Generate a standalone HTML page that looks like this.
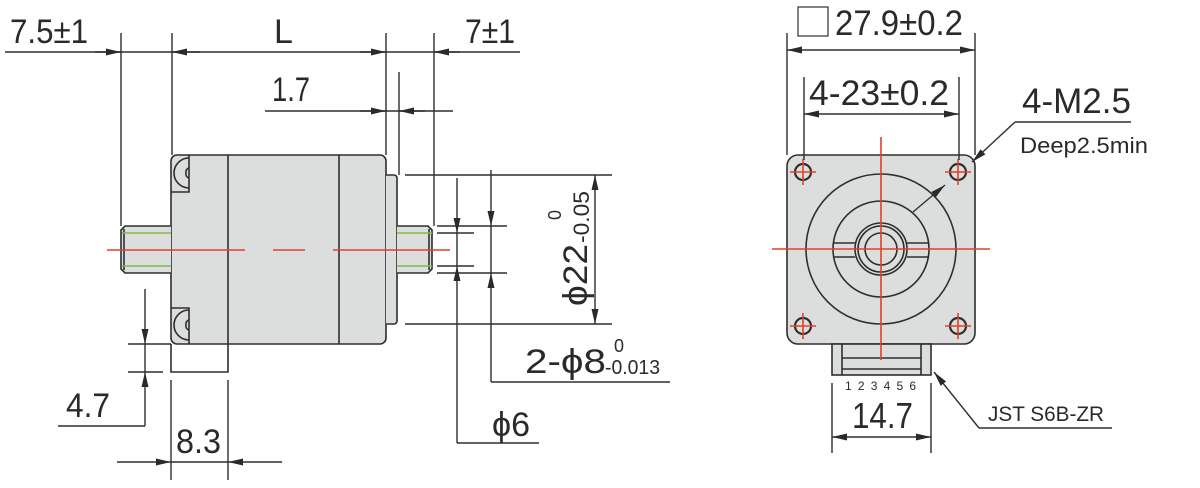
<!DOCTYPE html>
<html><head><meta charset="utf-8"><style>
html,body{margin:0;padding:0;background:#fff;}
svg{display:block;}
text{font-family:"Liberation Sans","DejaVu Sans",sans-serif;fill:#2a2a2a;}
</style></head><body>
<svg width="1200" height="488" viewBox="0 0 1200 488" xmlns="http://www.w3.org/2000/svg">
<defs>
<marker id="a" markerWidth="16" markerHeight="8" refX="15" refY="3.5" orient="auto" markerUnits="userSpaceOnUse">
<path d="M0,0 L15,3.5 L0,7 z" fill="#2a2a2a"/></marker>
</defs>
<g stroke="#2e2e2e" stroke-width="1.6" fill="none">
<!-- SIDE VIEW BODY -->
<rect x="171" y="155" width="215" height="189" rx="6" fill="#dcdedd"/>
<path d="M386,175 h8 a3,3 0 0 1 3,3 v143 a3,3 0 0 1 -3,3 h-8" fill="#dcdedd"/>
<path d="M171,226 h-46 l-4,4 v39 l4,4 h46" fill="#dcdedd"/>
<path d="M397,226 h31 l4,4 v39 l-4,4 h-31" fill="#dcdedd"/>
<line x1="124" y1="229" x2="124" y2="270"/>
<line x1="429" y1="229" x2="429" y2="270"/>
<line x1="228" y1="155" x2="228" y2="344"/>
<line x1="339" y1="155" x2="339" y2="344"/>
<path d="M171,192 h18 v-37"/>
<path d="M171,308 h18 v36"/>
<path d="M189,158 a12,12 0 0 0 0,30 M189,168 a4,4 0 0 0 -3,5 a4,4 0 0 0 3,5"/>
<path d="M189,310 a12,12 0 0 0 0,30 M189,320 a4,4 0 0 0 -3,5 a4,4 0 0 0 3,5"/>
<path d="M171,344 v28 h57 v-28"/>
</g>
<g stroke="#7dbb4a" stroke-width="1.6">
<line x1="122" y1="233" x2="171" y2="233"/><line x1="122" y1="266" x2="171" y2="266"/>
<line x1="397" y1="233" x2="432" y2="233"/><line x1="397" y1="266" x2="432" y2="266"/>
</g>
<g stroke="#e0402a" stroke-width="1.6">
<line x1="107" y1="250" x2="245" y2="250"/><line x1="273" y1="250" x2="305" y2="250"/><line x1="333" y1="250" x2="450" y2="250"/>
</g>
<!-- SIDE VIEW DIMENSIONS -->
<g stroke="#2e2e2e" stroke-width="1.4" fill="none">
<line x1="5" y1="52" x2="520" y2="52"/>
<line x1="121" y1="33" x2="121" y2="226"/>
<line x1="172" y1="33" x2="172" y2="155"/>
<line x1="386" y1="33" x2="386" y2="155"/>
<line x1="434" y1="33" x2="434" y2="226"/>
<line x1="399" y1="72" x2="399" y2="175"/>
<line x1="265" y1="111" x2="453" y2="111"/>
<line x1="95" y1="52" x2="121" y2="52" marker-end="url(#a)"/>
<line x1="200" y1="52" x2="172" y2="52" marker-end="url(#a)"/>
<line x1="360" y1="52" x2="386" y2="52" marker-end="url(#a)"/>
<line x1="460" y1="52" x2="434" y2="52" marker-end="url(#a)"/>
<line x1="360" y1="111" x2="386" y2="111" marker-end="url(#a)"/>
<line x1="425" y1="111" x2="399" y2="111" marker-end="url(#a)"/>
<!-- phi22 -->
<line x1="405" y1="175" x2="612" y2="175"/>
<line x1="405" y1="324" x2="612" y2="324"/>
<line x1="595" y1="250" x2="595" y2="175" marker-end="url(#a)"/>
<line x1="595" y1="250" x2="595" y2="324" marker-end="url(#a)"/>
<!-- shaft ext -->
<line x1="437" y1="226" x2="507" y2="226"/>
<line x1="437" y1="273" x2="507" y2="273"/>
<line x1="437" y1="233" x2="474" y2="233"/>
<line x1="437" y1="266" x2="474" y2="266"/>
<!-- phi8 -->
<line x1="491" y1="170" x2="491" y2="226" marker-end="url(#a)"/>
<line x1="491" y1="382" x2="491" y2="273" marker-end="url(#a)"/>
<line x1="491" y1="226" x2="491" y2="273"/>
<line x1="491" y1="382" x2="670" y2="382"/>
<!-- phi6 -->
<line x1="457" y1="178" x2="457" y2="233" marker-end="url(#a)"/>
<line x1="457" y1="443" x2="457" y2="266" marker-end="url(#a)"/>
<line x1="457" y1="233" x2="457" y2="266"/>
<line x1="457" y1="443" x2="539" y2="443"/>
<!-- 4.7 -->
<line x1="128" y1="344" x2="171" y2="344"/>
<line x1="128" y1="372" x2="163" y2="372"/>
<line x1="145" y1="289" x2="145" y2="344" marker-end="url(#a)"/>
<line x1="145" y1="426" x2="145" y2="372" marker-end="url(#a)"/>
<line x1="145" y1="344" x2="145" y2="372"/>
<line x1="58" y1="426" x2="145" y2="426"/>
<!-- 8.3 -->
<line x1="171" y1="380" x2="171" y2="480"/>
<line x1="228" y1="380" x2="228" y2="480"/>
<line x1="117" y1="462" x2="171" y2="462" marker-end="url(#a)"/>
<line x1="282" y1="462" x2="228" y2="462" marker-end="url(#a)"/>
<line x1="171" y1="462" x2="228" y2="462"/>
</g>
<!-- SIDE TEXT -->
<text x="10" y="43" font-size="34" textLength="78" lengthAdjust="spacingAndGlyphs">7.5±1</text>
<text x="274" y="43" font-size="34">L</text>
<text x="465" y="43" font-size="34" textLength="50" lengthAdjust="spacingAndGlyphs">7±1</text>
<text x="272" y="101" font-size="34" textLength="38" lengthAdjust="spacingAndGlyphs">1.7</text>
<text x="66" y="417" font-size="34" textLength="44" lengthAdjust="spacingAndGlyphs">4.7</text>
<text x="176" y="453" font-size="34" textLength="45" lengthAdjust="spacingAndGlyphs">8.3</text>
<text x="492" y="436" font-size="34" textLength="38" lengthAdjust="spacingAndGlyphs">ϕ6</text>
<text x="525" y="373" font-size="34" textLength="81" lengthAdjust="spacingAndGlyphs">2-ϕ8</text>
<text x="614" y="352" font-size="18">0</text>
<text x="605" y="374" font-size="20" textLength="55" lengthAdjust="spacingAndGlyphs">-0.013</text>
<g transform="translate(587,306) rotate(-90)">
<text x="0" y="0" font-size="34" textLength="62" lengthAdjust="spacingAndGlyphs">ϕ22</text>
<text x="63" y="2" font-size="22" textLength="52" lengthAdjust="spacingAndGlyphs">-0.05</text>
<text x="86" y="-26" font-size="18">0</text>
</g>
<!-- FRONT VIEW -->
<g stroke="#2e2e2e" stroke-width="1.6" fill="none">
<rect x="787" y="155" width="188" height="189" rx="11" fill="#dcdedd"/>
<rect x="832" y="344" width="99" height="31" fill="#dcdedd"/>
<line x1="842" y1="344" x2="842" y2="375"/>
<line x1="921" y1="344" x2="921" y2="375"/>
<line x1="842" y1="358" x2="921" y2="358"/>
<line x1="842" y1="369" x2="921" y2="369"/>
<circle cx="881" cy="249" r="75"/>
<circle cx="881" cy="249" r="48"/>
<circle cx="881" cy="249" r="26"/>
<circle cx="881" cy="249" r="23"/>
<circle cx="881" cy="249" r="16"/>
<path d="M833,243 h22 M833,257 h22 M907,243 h22 M907,257 h22"/>
<circle cx="803" cy="172" r="8" stroke-width="2.2"/>
<circle cx="958" cy="172" r="8" stroke-width="2.2"/>
<circle cx="803" cy="326" r="8" stroke-width="2.2"/>
<circle cx="958" cy="326" r="8" stroke-width="2.2"/>
</g>
<g stroke="#e0402a" stroke-width="1.6">
<line x1="881" y1="137" x2="881" y2="360"/>
<line x1="772" y1="249" x2="990" y2="249"/>
<path d="M790,172 h26 M803,159 v26 M945,172 h26 M958,159 v26 M790,326 h26 M803,313 v26 M945,326 h26 M958,313 v26"/>
</g>
<g stroke="#2e2e2e" stroke-width="1.4" fill="none">
<rect x="798" y="7" width="30" height="29" stroke-width="1.2"/>
<line x1="787" y1="33" x2="787" y2="155"/>
<line x1="975" y1="33" x2="975" y2="155"/>
<line x1="881" y1="50" x2="787" y2="50" marker-end="url(#a)"/>
<line x1="881" y1="50" x2="975" y2="50" marker-end="url(#a)"/>
<line x1="804" y1="77" x2="804" y2="160"/>
<line x1="959" y1="77" x2="959" y2="160"/>
<line x1="881" y1="114" x2="804" y2="114" marker-end="url(#a)"/>
<line x1="881" y1="114" x2="959" y2="114" marker-end="url(#a)"/>
<line x1="1015" y1="122" x2="1131" y2="122"/>
<line x1="1015" y1="122" x2="972" y2="162" marker-end="url(#a)"/>
<line x1="913" y1="212" x2="945" y2="185" marker-end="url(#a)"/>
<line x1="832" y1="383" x2="832" y2="453"/>
<line x1="931" y1="383" x2="931" y2="453"/>
<line x1="881" y1="437" x2="832" y2="437" marker-end="url(#a)"/>
<line x1="881" y1="437" x2="931" y2="437" marker-end="url(#a)"/>
<line x1="979" y1="428" x2="934" y2="372" marker-end="url(#a)"/>
<line x1="979" y1="428" x2="1112" y2="428"/>
</g>
<text x="835" y="35" font-size="35" textLength="128" lengthAdjust="spacingAndGlyphs">27.9±0.2</text>
<text x="809" y="105" font-size="35" textLength="140" lengthAdjust="spacingAndGlyphs">4-23±0.2</text>
<text x="1022" y="113" font-size="35" textLength="109" lengthAdjust="spacingAndGlyphs">4-M2.5</text>
<text x="1020" y="153" font-size="22" textLength="128" lengthAdjust="spacingAndGlyphs">Deep2.5min</text>
<text x="852" y="428" font-size="36" textLength="61" lengthAdjust="spacingAndGlyphs">14.7</text>
<text x="845" y="390" font-size="12" textLength="71" lengthAdjust="spacing">123456</text>
<text x="988" y="421" font-size="21" textLength="116" lengthAdjust="spacingAndGlyphs">JST S6B-ZR</text>
</svg>
</body></html>
